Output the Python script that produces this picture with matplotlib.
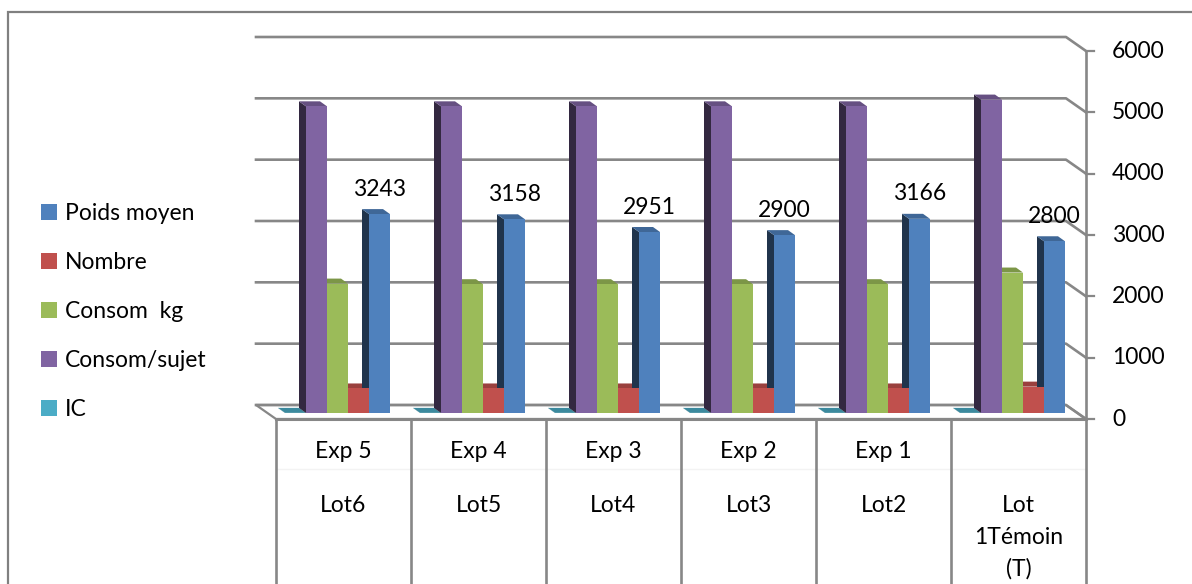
import matplotlib
matplotlib.use("Agg")
import matplotlib.pyplot as plt
from matplotlib.patches import Polygon, Patch, Rectangle
import matplotlib.colors as mcolors
import numpy as np

plt.rcParams['font.family'] = ['Lato', 'DejaVu Sans']

# categories (two label rows under the axis)
lot_top = ["Exp 5", "Exp 4", "Exp 3", "Exp 2", "Exp 1", ""]
lot_bottom = ["Lot6", "Lot5", "Lot4", "Lot3", "Lot2", "Lot\n1Témoin\n(T)"]

# series values
poids_moyen = [3243, 3158, 2951, 2900, 3166, 2800]
nombre = [400, 400, 400, 400, 400, 430]
consom_kg = [2110, 2100, 2100, 2100, 2100, 2290]
consom_sujet = [5000, 5000, 5000, 5000, 5000, 5110]
ic = [2, 2, 2, 2, 2, 2]

yticks = [0, 1000, 2000, 3000, 4000, 5000, 6000]

# drawn left to right inside each group
series = [
    ("IC", ic, "#4BACC6"),
    ("Consom/sujet", consom_sujet, "#8064A2"),
    ("Consom  kg", consom_kg, "#9BBB59"),
    ("Nombre", nombre, "#C0504D"),
    ("Poids moyen", poids_moyen, "#4F81BD"),
]

FS = 16.5
GRID = "#878787"

fig = plt.figure(figsize=(11.92, 5.84), dpi=100)
ax = fig.add_axes([268 / 1192, 171 / 584, 810 / 1192, 368 / 584])
n = len(lot_bottom)
ax.set_xlim(0, n)
ax.set_ylim(0, yticks[-1])
ax.axis("off")

bb = ax.get_window_extent()
kx = n / bb.width
ky = yticks[-1] / bb.height


def shift(px, py):
    return px * kx, py * ky


back = shift(-12, 8)
front = shift(8, -6)
depth = shift(-7, 5)

# outer chart border
fig.add_artist(Rectangle((8 / 1192, -0.2), 1.2, 1.2 - 12 / 584,
                         transform=fig.transFigure, fill=False,
                         edgecolor="#808080", lw=1.6))

# floor
floor = Polygon([(back[0], back[1]), (n + back[0], back[1]),
                 (n + front[0], front[1]), (front[0], front[1])],
                closed=True, facecolor="white", edgecolor=GRID, lw=1.6,
                zorder=0.5, clip_on=False)
ax.add_patch(floor)

# back wall + side wall gridlines
for v in yticks:
    ax.plot([back[0], n + back[0], n + front[0]],
            [v + back[1], v + back[1], v + front[1]],
            color=GRID, lw=1.9, zorder=1, clip_on=False)

# value axis on the right
ax.plot([n + front[0]] * 2, [front[1], yticks[-1] + front[1]],
        color=GRID, lw=1.9, zorder=1, clip_on=False)
tick_len = shift(8, 0)[0]
for v in yticks:
    ax.plot([n + front[0], n + front[0] + tick_len], [v + front[1]] * 2,
            color=GRID, lw=1.6, clip_on=False)
    ax.text(n + front[0] + shift(26, 0)[0], v + front[1], str(v),
            fontsize=FS, ha="left", va="center")

# category table under the floor
y_bot = -(bb.y0 + 20) * ky
ax.plot([front[0], n + front[0]], [front[1]] * 2, color=GRID, lw=2.2,
        zorder=1, clip_on=False)
ax.plot([front[0], n + front[0]], [front[1] - 50 * ky] * 2, color="#f3f3f3",
        lw=1, zorder=0.4, clip_on=False)
for k in range(n + 1):
    ax.plot([k + front[0]] * 2, [front[1], y_bot], color=GRID, lw=1.9,
            clip_on=False)
for k in range(n):
    xc = k + 0.5 + front[0]
    if lot_top[k]:
        ax.text(xc, front[1] - 33 * ky, lot_top[k], fontsize=FS,
                ha="center", va="center")
    for i, line in enumerate(lot_bottom[k].split("\n")):
        ax.text(xc, front[1] - (86 + 32 * i) * ky, line, fontsize=FS,
                ha="center", va="center")

# 3D-looking bars: front face, left side face and top face
bw = 21 * kx
off = 17 * kx
for j, (name, vals, col) in enumerate(series):
    rgb = np.array(mcolors.to_rgb(col))
    side_c = rgb * 0.4
    top_c = rgb * 0.8
    xs = np.arange(n) + off + j * bw
    ax.bar(xs, vals, width=bw, align="edge", color=col, lw=0, zorder=3)
    for x, h in zip(xs, vals):
        ax.add_patch(Polygon([(x, 0), (x, h), (x + depth[0], h + depth[1]),
                              (x + depth[0], depth[1])], closed=True,
                             facecolor=side_c, lw=0, zorder=2))
        ax.add_patch(Polygon([(x, h), (x + bw, h),
                              (x + bw + depth[0], h + depth[1]),
                              (x + depth[0], h + depth[1])], closed=True,
                             facecolor=top_c, lw=0, zorder=2))
    if name == "Poids moyen":
        for x, h in zip(xs, vals):
            ax.annotate(str(h), xy=(x + bw / 2, h), xytext=(0, 25),
                        textcoords="offset pixels", fontsize=FS,
                        ha="center", va="center", zorder=5)

# legend on the left
handles = [Patch(facecolor=c, edgecolor="none", label=nm)
           for nm, _, c in reversed(series)]
fig.legend(handles=handles, loc="upper left",
           bbox_to_anchor=(41 / 1192, 1 - 203 / 584), frameon=False,
           fontsize=FS, handlelength=0.7, handleheight=0.7,
           handletextpad=0.35, labelspacing=1.22, borderpad=0,
           borderaxespad=0)

fig.savefig("out.png", dpi=100)
